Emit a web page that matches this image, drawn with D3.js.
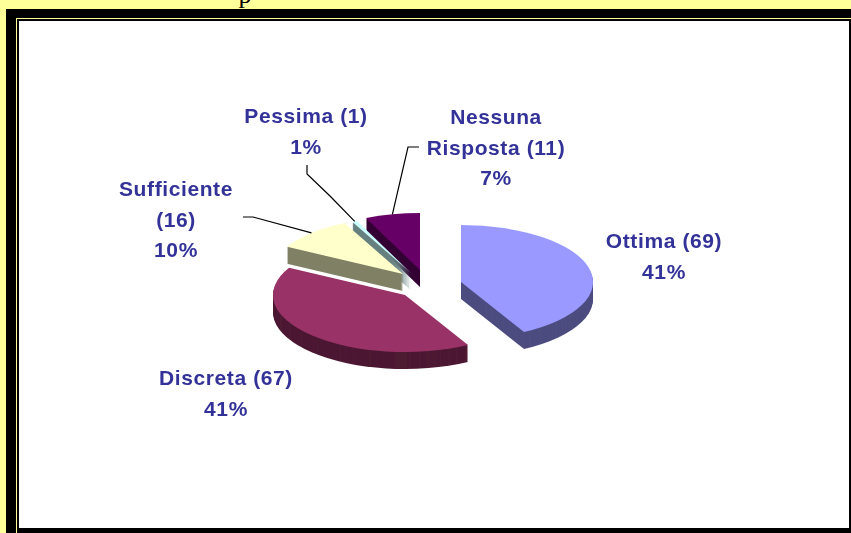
<!DOCTYPE html>
<html><head><meta charset="utf-8">
<style>html,body{margin:0;padding:0;background:#FFFF99;overflow:hidden}svg{display:block}</style>
<script src="https://cdn.jsdelivr.net/npm/d3@7/dist/d3.min.js"></script>
</head><body><svg id="c" width="851" height="533"></svg>
<script>
const categories = ["Ottima","Discreta","Sufficiente","Pessima","Nessuna Risposta"];
const counts = [69,67,16,1,11];
const percentLabels = ["41%","41%","10%","1%","7%"];
const topColors = ["#9999FF","#993366","#FFFFCC","#CCFFFF","#660066"];
const sideColors = ["#4D4D80","#4D1A33","#808066","#668080","#330033"];
// layout: slice apex after explosion, label lines and leader elbows
const apexes = [[461,282],[405,295],[403,274],[411,273],[420,270]];
const labelLines = [["Ottima (69)","41%"],["Discreta (67)","41%"],["Sufficiente","(16)","10%"],["Pessima (1)","1%"],["Nessuna","Risposta (11)","7%"]];
const labelCx = [664,226,176,306,496];
const labelTop = [248,385,196,123,124];
const labelStep = 30.5;
const elbows = [null,null,[[243,217],[253,217]],[[307,165],[307,174],[330,196]],[[419,147],[408,147]]];
const drawOrder = [4,3,2,1,0];
const rx=132, ry=57, depth=17;

const svg=d3.select("#c");
const defs=svg.append("defs");
defs.append("filter").attr("id","soft").append("feGaussianBlur").attr("stdDeviation",0.45);

// frame
svg.append("rect").attr("x",6).attr("y",9).attr("width",845).attr("height",524).attr("fill","#000");
svg.append("rect").attr("x",16).attr("y",18).attr("width",835).attr("height",515).attr("fill","#FFFF99");
svg.append("rect").attr("x",17).attr("y",19).attr("width",834).attr("height",514).attr("fill","#000");
svg.append("rect").attr("x",19).attr("y",21).attr("width",830).attr("height",507).attr("fill","#fff");
svg.append("text").attr("x",245).attr("y",3).attr("text-anchor","middle")
  .attr("font-family","'Liberation Serif',serif").attr("font-size",26).attr("fill","#000").text("p");

const pie=d3.pie().sort(null)(counts);
const arc=d3.arc().innerRadius(0).outerRadius(rx);
const chart=svg.append("g").attr("filter","url(#soft)");
drawOrder.forEach(i=>{
  const g=chart.append("g");
  d3.range(depth,0,-1).forEach(d=>{
    g.append("path").attr("d",arc(pie[i]))
     .attr("transform",`translate(${apexes[i][0]},${apexes[i][1]+d}) scale(1,${ry/rx})`)
     .attr("fill",sideColors[i]);
  });
  g.append("path").attr("d",arc(pie[i]))
   .attr("transform",`translate(${apexes[i][0]},${apexes[i][1]}) scale(1,${ry/rx})`)
   .attr("fill",topColors[i]);
});

const line=d3.line();
const ann=svg.append("g").attr("filter","url(#soft)");
elbows.forEach((e,i)=>{
  if(!e) return;
  const mid=(pie[i].startAngle+pie[i].endAngle)/2;
  const anchor=[apexes[i][0]+rx*Math.sin(mid),apexes[i][1]-ry*Math.cos(mid)];
  ann.append("path").attr("d",line([...e,anchor])).attr("fill","none").attr("stroke","#000").attr("stroke-width",1.2);
});
labelLines.forEach((ls,i)=>{
  ls.forEach((t,j)=>{
    ann.append("text").attr("x",labelCx[i]).attr("y",labelTop[i]+j*labelStep)
      .attr("text-anchor","middle").attr("font-family","'Liberation Sans',Arial,sans-serif")
      .attr("font-weight","bold").attr("font-size",21).attr("letter-spacing",0.6).attr("fill","#333399").text(t);
  });
});
</script></body></html>
